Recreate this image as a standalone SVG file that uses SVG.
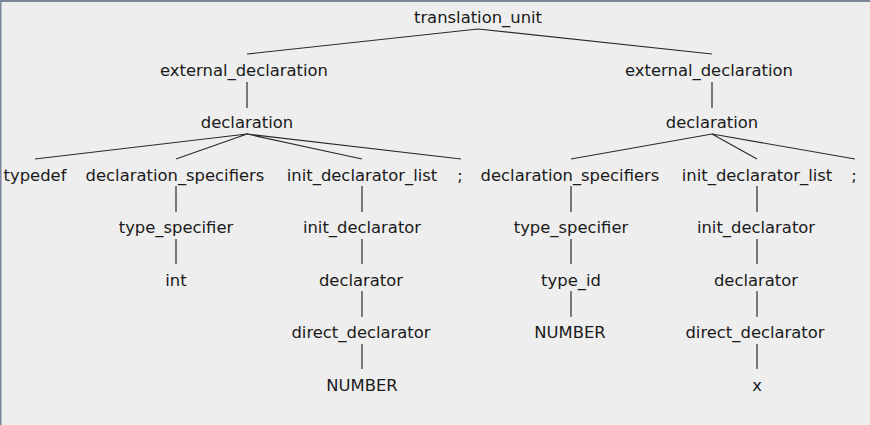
<svg xmlns="http://www.w3.org/2000/svg" width="870" height="425" viewBox="0 0 870 425">
  <style>
    .bg { fill: #eeeeee; }
    .frame { stroke: #7b8799; stroke-width: 2; fill: none; }
    .edge { stroke: #2b2b2b; stroke-width: 1.2; fill: none; }
    text { font-family: "DejaVu Sans", "Liberation Sans", sans-serif; font-size: 16.4px; fill: #1a1a1a; text-anchor: middle; }
  </style>
  <rect class="bg" x="0" y="0" width="870" height="425"/>
  <path class="frame" d="M0.5,425 V1 H870"/>

  <!-- tree edges -->
  <g id="edges">
    <path class="edge" d="M478,29 L247,54 M478,29 L712,54"/>
    <path class="edge" d="M247,82 V108 M712,82 V108"/>
    <path class="edge" d="M247,134 L35,159 M247,134 L176,159 M247,134 L362,159 M247,134 L461,159"/>
    <path class="edge" d="M712,134 L571,159 M712,134 L757,159 M712,134 L855,159"/>
    <path class="edge" d="M176,186 V212 M362,186 V212 M571,186 V212 M757,186 V212"/>
    <path class="edge" d="M176,239 V264 M362,239 V264 M571,239 V264 M757,239 V264"/>
    <path class="edge" d="M362,291 V317 M571,291 V317 M757,291 V317"/>
    <path class="edge" d="M362,344 V369 M757,344 V369"/>
  </g>

  <g id="translation_unit"><text x="478" y="23">translation_unit</text></g>

  <g id="ext_decl_1"><text x="244" y="76">external_declaration</text></g>
  <g id="ext_decl_2"><text x="709" y="76">external_declaration</text></g>

  <g id="decl_1"><text x="247" y="128">declaration</text></g>
  <g id="decl_2"><text x="712" y="128">declaration</text></g>

  <g id="typedef"><text x="35" y="181">typedef</text></g>
  <g id="decl_spec_1"><text x="175" y="181">declaration_specifiers</text></g>
  <g id="init_decl_list_1"><text x="362" y="181">init_declarator_list</text></g>
  <g id="semi_1"><text x="460" y="181">;</text></g>
  <g id="decl_spec_2"><text x="570" y="181">declaration_specifiers</text></g>
  <g id="init_decl_list_2"><text x="757" y="181">init_declarator_list</text></g>
  <g id="semi_2"><text x="854" y="181">;</text></g>

  <g id="type_spec_1"><text x="176" y="233">type_specifier</text></g>
  <g id="init_decl_1"><text x="362" y="233">init_declarator</text></g>
  <g id="type_spec_2"><text x="571" y="233">type_specifier</text></g>
  <g id="init_decl_2"><text x="756" y="233">init_declarator</text></g>

  <g id="int"><text x="176" y="286">int</text></g>
  <g id="declarator_1"><text x="361" y="286">declarator</text></g>
  <g id="type_id"><text x="571" y="286">type_id</text></g>
  <g id="declarator_2"><text x="756" y="286">declarator</text></g>

  <g id="direct_decl_1"><text x="361" y="338">direct_declarator</text></g>
  <g id="number_2"><text x="570" y="338">NUMBER</text></g>
  <g id="direct_decl_2"><text x="755" y="338">direct_declarator</text></g>

  <g id="number_1"><text x="362" y="391">NUMBER</text></g>
  <g id="x"><text x="757" y="391">x</text></g>
</svg>
